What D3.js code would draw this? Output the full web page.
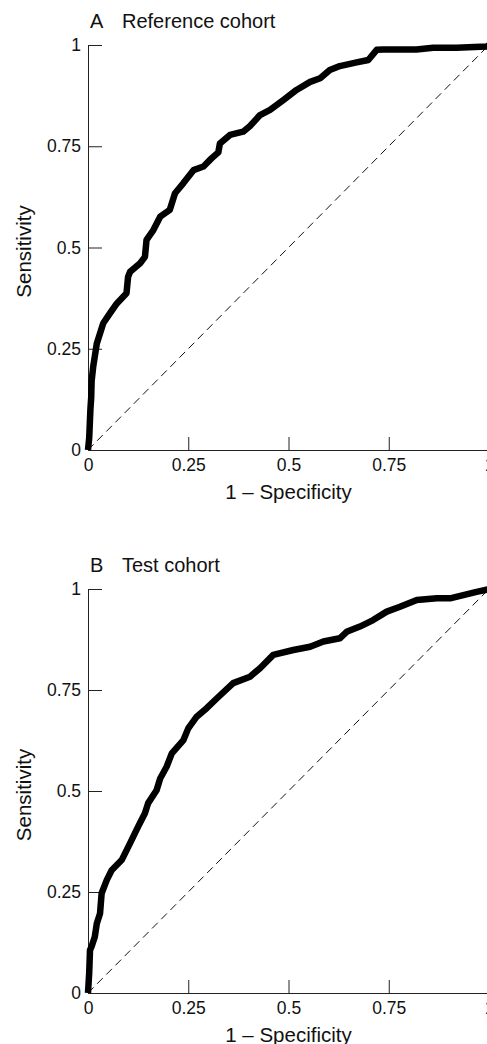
<!DOCTYPE html>
<html>
<head>
<meta charset="utf-8">
<script src="https://cdn.jsdelivr.net/npm/d3@7"></script>
<style>
  body { margin: 0; background: #fff; }
  svg { display: block; font-family: "Liberation Sans", Arial, sans-serif; }
</style>
</head>
<body>
<div id="roc"></div>
<script>
//ROC curve for the reference cohort (1 - specificity, sensitivity)
const refX = [0, 0.003, 0.006, 0.008, 0.009, 0.013, 0.022, 0.038, 0.055, 0.072, 0.096, 0.1, 0.105, 0.13, 0.142, 0.146, 0.163, 0.18, 0.204, 0.217, 0.238, 0.263, 0.288, 0.308, 0.325, 0.329, 0.354, 0.387, 0.404, 0.429, 0.454, 0.487, 0.52, 0.554, 0.579, 0.603, 0.628, 0.67, 0.699, 0.72, 0.736, 0.819, 0.861, 0.919, 0.994, 1]
const refY = [0, 0.03, 0.1, 0.13, 0.17, 0.206, 0.263, 0.313, 0.338, 0.362, 0.387, 0.428, 0.44, 0.461, 0.477, 0.519, 0.543, 0.576, 0.593, 0.634, 0.659, 0.691, 0.7, 0.72, 0.735, 0.757, 0.778, 0.786, 0.8, 0.827, 0.84, 0.864, 0.889, 0.909, 0.918, 0.938, 0.948, 0.957, 0.963, 0.988, 0.989, 0.989, 0.993, 0.993, 0.996, 1]

//ROC curve for the test cohort
const testX = [0, 0.003, 0.005, 0.009, 0.017, 0.022, 0.03, 0.034, 0.047, 0.059, 0.084, 0.105, 0.125, 0.142, 0.15, 0.171, 0.18, 0.196, 0.209, 0.238, 0.25, 0.271, 0.296, 0.321, 0.362, 0.404, 0.429, 0.462, 0.512, 0.554, 0.587, 0.628, 0.645, 0.678, 0.711, 0.745, 0.778, 0.82, 0.87, 0.903, 0.936, 0.969, 0.994, 1]
const testY = [0, 0.05, 0.106, 0.115, 0.139, 0.172, 0.197, 0.247, 0.28, 0.304, 0.329, 0.371, 0.412, 0.445, 0.47, 0.502, 0.531, 0.56, 0.593, 0.626, 0.655, 0.684, 0.705, 0.729, 0.767, 0.783, 0.804, 0.837, 0.849, 0.857, 0.87, 0.878, 0.894, 0.907, 0.923, 0.944, 0.956, 0.973, 0.977, 0.977, 0.985, 0.993, 0.998, 1]

//axis ticks, shared by both panels
const tickValues = [0, 0.25, 0.5, 0.75, 1]
const tickLabels = ['0', '0.25', '0.5', '0.75', '1']

//panel letters and titles
const panelLetters = ['A', 'B']
const panelTitles = ['Reference cohort', 'Test cohort']

//size of the whole picture
const width = 487, height = 1044

const svg = d3.select("#roc")
.append("svg")
  .attr("width", width)
  .attr("height", height)

//x scale is the same for both panels
const x = d3.scaleLinear()
  .domain([0, 1])
  .range([88, 489])

//draw one panel: top and bottom pixel of the y axis
function drawPanel(xs, ys, top, bottom, letter, title)
{
    const y = d3.scaleLinear()
    .domain([0, 1])
    .range([bottom, top])

    const g = svg.append("g")

    //x axis, ticks point inside the plot
    const xAxis = g.append("g")
    .attr("transform", `translate(0, ${bottom})`)
    .call(d3.axisBottom(x)
        .tickValues(tickValues)
        .tickFormat((d, i) => tickLabels[i])
        .tickSize(-13)
        .tickSizeOuter(0)
        .tickPadding(9))
    xAxis.selectAll("text").style("font-size", "17.5px").attr("fill", "#111")
    xAxis.selectAll("line, path").attr("stroke", "#222")

    //y axis
    const yAxis = g.append("g")
    .attr("transform", `translate(${x(0)}, 0)`)
    .call(d3.axisLeft(y)
        .tickValues(tickValues)
        .tickFormat((d, i) => tickLabels[i])
        .tickSize(-14)
        .tickSizeOuter(0)
        .tickPadding(7))
    yAxis.selectAll("text").style("font-size", "17.5px").attr("fill", "#111")
    yAxis.selectAll("line, path").attr("stroke", "#222")

    //diagonal reference line
    g.append("line")
    .attr("x1", x(0))
    .attr("y1", y(0))
    .attr("x2", x(1))
    .attr("y2", y(1))
    .attr("stroke", "#111")
    .attr("stroke-width", 1)
    .attr("stroke-dasharray", "8,5")

    //roc curve
    const pts = xs.map((d, i) => [d, ys[i]])
    const line = d3.line()
    .x(d => x(d[0]))
    .y(d => y(d[1]))
    g.append("path")
    .datum(pts)
    .attr("d", line)
    .attr("fill", "none")
    .attr("stroke", "#000")
    .attr("stroke-width", 6.5)
    .attr("stroke-linejoin", "round")

    //panel title
    g.append("text")
    .attr("x", 90)
    .attr("y", top - 17)
    .style("font-size", "20px")
    .attr("fill", "#111")
    .text(letter)
    g.append("text")
    .attr("x", 122)
    .attr("y", top - 17)
    .style("font-size", "20px")
    .attr("fill", "#111")
    .text(title)

    //axis titles
    g.append("text")
    .attr("x", (x(0) + x(1)) / 2)
    .attr("y", bottom + 49)
    .attr("text-anchor", "middle")
    .style("font-size", "20.5px")
    .attr("fill", "#111")
    .text("1 \u2013 Specificity")

    g.append("text")
    .attr("transform", `translate(31, ${(top + bottom) / 2 + 4}) rotate(-90)`)
    .attr("text-anchor", "middle")
    .style("font-size", "20.5px")
    .attr("fill", "#111")
    .text("Sensitivity")
}

drawPanel(refX, refY, 45, 450, panelLetters[0], panelTitles[0])
drawPanel(testX, testY, 589, 993, panelLetters[1], panelTitles[1])
</script>
</body>
</html>
